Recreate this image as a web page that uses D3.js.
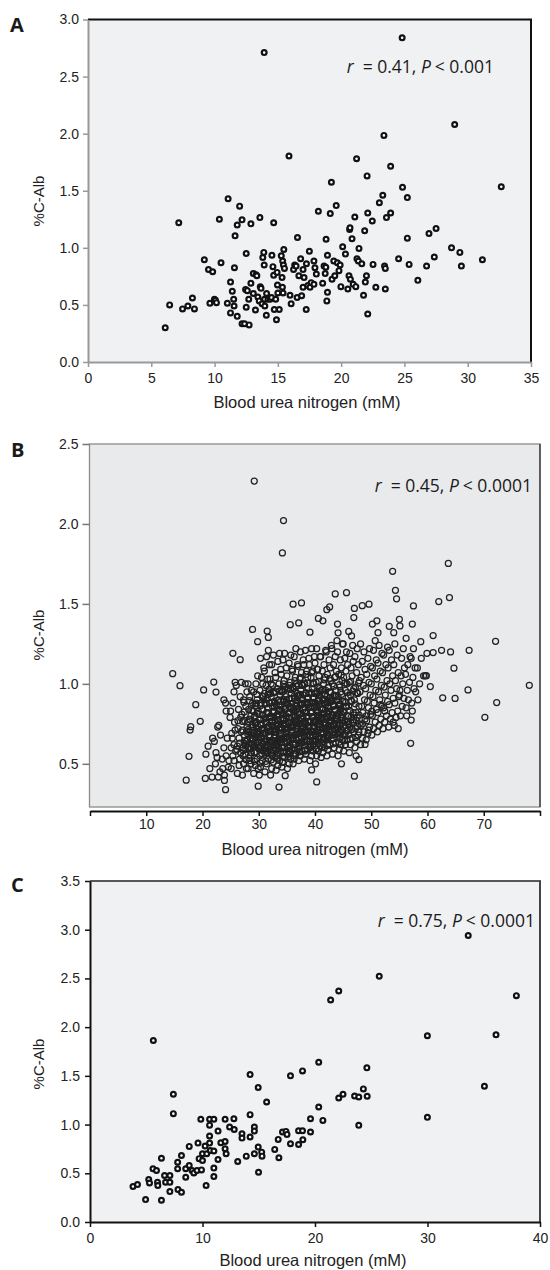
<!DOCTYPE html>
<html><head><meta charset="utf-8">
<script src="https://cdn.jsdelivr.net/npm/d3@7"></script>
<style>body{margin:0;background:#fff}svg{display:block}</style>
</head><body>
<script>
// ---------------- DATA ----------------
const panelA = [
[6.1,0.30],[6.45,0.50],[7.17,1.22],[7.47,0.465],[7.89,0.49],[8.25,0.56],[8.41,0.465],[9.19,0.895],[9.52,0.81],[9.63,0.515],
[9.85,0.79],[9.99,0.55],[10.07,0.54],[10.15,0.52],[10.38,1.25],[10.51,0.87],[11.07,1.43],[11.01,0.515],[11.26,0.70],[11.26,0.43],
[11.4,0.62],[11.51,0.55],[11.54,0.49],[11.57,0.825],[11.62,1.105],[11.79,0.40],[11.79,1.20],[11.98,1.365],[12.17,1.245],[12.17,0.335],
[12.37,0.335],[12.45,0.635],[12.5,0.95],[12.5,0.48],[12.59,0.625],[12.7,0.55],[12.73,0.325],[12.87,0.69],[12.87,1.21],[13.06,0.60],
[13.06,0.775],[13.23,0.455],[13.28,0.765],[13.34,0.755],[13.42,0.57],[13.53,0.535],[13.58,1.265],[13.61,0.66],[13.67,0.645],[13.75,0.51],
[13.81,0.915],[13.89,0.96],[13.92,2.71],[13.92,0.85],[13.95,0.55],[13.97,0.49],[14.09,0.41],[14.11,0.60],[14.22,0.55],[14.39,0.55],
[14.5,0.565],[14.53,0.935],[14.61,0.835],[14.67,1.22],[14.67,0.76],[14.72,0.46],[14.83,0.55],[14.89,0.37],[14.94,0.785],[14.97,0.675],
[15.0,0.605],[15.11,0.46],[15.27,0.93],[15.33,0.74],[15.36,0.655],[15.38,0.885],[15.41,0.605],[15.44,0.85],[15.47,0.985],[15.52,0.82],
[15.88,1.805],[15.96,0.585],[16.05,0.51],[16.24,0.81],[16.33,0.85],[16.44,0.84],[16.52,0.565],[16.55,1.09],[16.66,0.755],[16.8,0.905],
[16.88,0.58],[16.99,0.81],[16.99,0.655],[17.07,0.74],[17.24,0.46],[17.26,0.86],[17.37,0.67],[17.49,0.97],[17.54,0.655],[17.63,0.695],
[17.85,0.885],[17.85,0.68],[17.93,0.825],[18.04,0.77],[18.2,1.32],[18.54,0.69],[18.65,0.84],[18.74,0.775],[18.79,0.83],[18.81,1.075],
[18.87,0.535],[18.92,0.61],[18.92,0.935],[19.14,1.30],[19.23,1.575],[19.28,0.725],[19.42,0.885],[19.5,0.755],[19.61,1.37],[19.7,0.87],
[19.83,0.80],[19.92,0.85],[19.98,0.66],[20.12,1.01],[20.34,0.945],[20.53,0.64],[20.62,0.755],[20.67,1.16],[20.7,1.175],[20.73,0.725],
[20.86,1.08],[20.95,0.68],[21.08,1.27],[21.16,0.66],[21.22,1.78],[21.25,0.905],[21.36,0.885],[21.41,0.995],[21.63,0.86],[21.77,0.585],
[21.86,1.15],[21.91,0.70],[22.0,0.755],[22.05,1.63],[22.1,1.305],[22.1,0.42],[22.46,1.235],[22.52,0.855],[22.74,0.655],[23.02,1.395],
[23.29,1.46],[23.38,1.985],[23.43,0.84],[23.49,0.82],[23.49,0.64],[23.58,1.265],[23.91,1.715],[23.91,1.305],[24.54,0.905],[24.82,2.84],
[24.85,1.53],[25.23,1.44],[25.23,1.085],[25.37,0.855],[26.06,0.715],[26.75,0.84],[26.94,1.125],[27.36,0.92],[27.5,1.17],[28.72,1.0],
[28.97,2.08],[29.38,0.96],[29.5,0.84],[31.16,0.895],[32.65,1.535]
];

const panelBOutliers = [
[29.2,2.268],[34.4,2.021],[34.2,1.819],[63.7,1.753],[53.8,1.704],[54.3,1.585],[54.5,1.532],[63.9,1.54],[62.0,1.515],[43.6,1.562],
[45.6,1.57],[36.1,1.498],[37.6,1.506],[47.0,1.472],[48.4,1.489],[49.6,1.498],[57.5,1.487],[46.9,1.415],[42.1,1.464],[42.6,1.481],
[40.6,1.409],[41.4,1.394],[37.1,1.381],[35.6,1.37],[44.0,1.374],[50.2,1.374],[51.0,1.394],[53.2,1.36],[55.0,1.404],[55.1,1.362],
[57.3,1.374],[54.0,1.32],[28.9,1.34],[31.5,1.33],[31.7,1.29],[29.8,1.264],[39.1,1.323],[44.1,1.319],[46.0,1.328],[61.0,1.302],
[51.2,1.32],[56.2,1.285],[58.8,1.264],[62.5,1.21],[64.1,1.2],[67.4,1.21],[72.1,1.266],[59.9,1.191],[61.0,1.196],[64.7,1.098],
[59.8,1.051],[60.5,0.983],[62.7,0.913],[64.9,0.909],[67.2,0.962],[70.2,0.791],[72.3,0.883],[78.1,0.991],[57.0,0.628],[57.1,0.774],
[57.3,0.83],[14.7,1.064],[16.0,0.989],[18.8,0.87],[20.2,0.962],[22.0,1.011],[22.4,0.949],[19.6,0.766],[17.9,0.732],[17.8,0.711],
[17.6,0.547],[17.1,0.398],[20.5,0.409],[21.7,0.417],[22.8,0.417],[23.9,0.396],[24.1,0.338],[29.9,0.36],[33.6,0.355],[34.7,0.426],
[39.4,0.462],[40.3,0.387],[44.7,0.50],[47.0,0.423],[47.8,0.526],[48.9,0.621],[25.4,1.191],[26.7,1.151],
[20.6,0.56],[21.3,0.47],[21.8,0.66],[22.1,0.64],[22.4,0.57],[22.7,0.73],[22.9,0.74],[23.2,0.68],[23.5,0.53],[23.8,0.6],
[24.2,0.55],[24.4,0.66],[24.6,0.48],[24.9,0.79],[24.1,0.88],[23.6,0.47],[22.3,0.5],[21.0,0.61],[24.7,0.52],[23.9,0.43],
[23.8,0.9],[24.2,0.83],[22.6,0.54],[23.1,0.45]
];

const panelBCore = [
[25.1,.47],[25.4,.55],[25.6,.62],[25.2,.69],[25.7,.76],[25.4,.88],[25.8,1.01],[25.6,.52],[25.9,.58],[25.0,.83],[25.6,.95],[25.3,.66],[25.8,.71],[25.1,.6],
[26.2,.44],[26.1,.59],[26.5,.66],[26.3,.72],[26.8,.79],[26.4,.84],[26.7,.92],[26.0,.99],[26.9,1.01],[26.6,.53],[26.2,.61],[26.8,.57],[26.5,.49],[26.9,.7],[26.3,.77],[26.6,.63],
[27.1,.43],[27.3,.5],[27.6,.56],[27.2,.6],[27.8,.64],[27.4,.68],[27.9,.73],[27.5,.77],[27.0,.81],[27.7,.86],[27.3,.9],[27.9,.95],[27.6,1.0],[27.2,.55],[27.8,.47],[27.4,.63],[27.1,.71],[27.7,.59],
[28.1,.47],[28.4,.52],[28.7,.57],[28.2,.6],[28.9,.62],[28.5,.66],[28.3,.7],[28.8,.73],[28.0,.76],[28.6,.8],[28.2,.84],[28.9,.88],[28.4,.92],[28.7,.96],[28.1,1.0],[28.5,.55],[28.8,.68],[28.3,.78],[28.6,.5],[28.0,.65],
[29.1,.44],[29.4,.49],[29.7,.53],[29.2,.57],[29.9,.6],[29.5,.63],[29.3,.67],[29.8,.7],[29.0,.73],[29.6,.76],[29.2,.79],[29.9,.83],[29.4,.86],[29.7,.9],[29.1,.95],[29.5,1.0],[29.8,1.05],[29.3,.61],[29.6,.69],[29.0,.83],[29.9,.47],[29.4,.75],
[30.1,.43],[30.3,.48],[30.6,.52],[30.2,.55],[30.8,.58],[30.4,.61],[30.9,.64],[30.5,.67],[30.0,.7],[30.7,.72],[30.3,.75],[30.9,.78],[30.1,.81],[30.6,.84],[30.4,.88],[30.8,.92],[30.2,.96],[30.7,1.0],[30.5,1.04],[30.9,1.1],[30.3,1.16],[30.6,.59],[30.1,.65],[30.8,.69],
[31.1,.45],[31.4,.5],[31.7,.53],[31.2,.56],[31.9,.59],[31.5,.62],[31.3,.65],[31.8,.68],[31.0,.71],[31.6,.73],[31.2,.76],[31.9,.79],[31.4,.82],[31.7,.85],[31.1,.88],[31.5,.91],[31.8,.95],[31.3,.99],[31.6,1.03],[31.0,1.08],[31.9,1.12],[31.4,1.17],[31.7,1.21],[31.2,.6],[31.8,.74],[31.5,.57],
[32.1,.43],[32.3,.47],[32.6,.51],[32.9,.54],[32.2,.57],[32.7,.6],[32.4,.63],[32.8,.66],[32.0,.68],[32.5,.71],[32.3,.74],[32.9,.77],[32.1,.8],[32.6,.83],[32.4,.86],[32.8,.89],[32.2,.92],[32.7,.95],[32.5,.99],[32.0,1.03],[32.9,1.07],[32.3,1.12],[32.6,1.18],[32.4,.55],[32.8,.72],[32.1,.64],[32.7,.79],[32.2,1.0],
[33.1,.46],[33.4,.49],[33.7,.52],[33.2,.55],[33.9,.58],[33.5,.61],[33.3,.64],[33.8,.67],[33.0,.7],[33.6,.72],[33.2,.75],[33.9,.78],[33.4,.81],[33.7,.84],[33.1,.87],[33.5,.9],[33.8,.93],[33.3,.97],[33.6,1.0],[33.0,1.04],[33.9,1.09],[33.4,1.14],[33.7,1.19],[33.2,.62],[33.8,.73],[33.5,.83],[33.1,.58],[33.6,.66],
[34.1,.48],[34.3,.51],[34.6,.54],[34.9,.57],[34.2,.6],[34.7,.63],[34.4,.66],[34.8,.69],[34.0,.72],[34.5,.74],[34.3,.77],[34.9,.8],[34.1,.83],[34.6,.86],[34.4,.89],[34.8,.92],[34.2,.95],[34.7,.98],[34.5,1.02],[34.0,1.06],[34.9,1.1],[34.3,1.15],[34.6,1.19],[34.4,.58],[34.8,.75],[34.1,.65],[34.7,.84],[34.2,.51],
[35.1,.47],[35.4,.5],[35.7,.53],[35.2,.56],[35.9,.59],[35.5,.62],[35.3,.65],[35.8,.68],[35.0,.71],[35.6,.73],[35.2,.76],[35.9,.79],[35.4,.82],[35.7,.85],[35.1,.88],[35.5,.91],[35.8,.94],[35.3,.97],[35.6,1.01],[35.0,1.05],[35.9,1.09],[35.4,1.13],[35.7,1.18],[35.2,.6],[35.8,.74],[35.5,.86],[35.1,.67],[35.6,.57],
[36.1,.5],[36.3,.53],[36.6,.56],[36.9,.59],[36.2,.62],[36.7,.65],[36.4,.68],[36.8,.7],[36.0,.73],[36.5,.76],[36.3,.79],[36.9,.82],[36.1,.85],[36.6,.88],[36.4,.91],[36.8,.94],[36.2,.97],[36.7,1.0],[36.5,1.04],[36.0,1.08],[36.9,1.12],[36.3,1.17],[36.6,1.22],[36.4,.6],[36.8,.77],[36.1,.66],[36.7,.84],[36.2,.55],
[37.1,.52],[37.4,.55],[37.7,.58],[37.2,.61],[37.9,.64],[37.5,.67],[37.3,.7],[37.8,.72],[37.0,.75],[37.6,.78],[37.2,.81],[37.9,.84],[37.4,.87],[37.7,.9],[37.1,.93],[37.5,.96],[37.8,.99],[37.3,1.03],[37.6,1.07],[37.0,1.11],[37.9,1.15],[37.4,1.2],[37.7,.63],[37.2,.69],[37.8,.8],[37.5,.88],[37.1,.6],[37.6,.74],
[38.1,.53],[38.3,.56],[38.6,.59],[38.9,.62],[38.2,.65],[38.7,.68],[38.4,.71],[38.8,.73],[38.0,.76],[38.5,.79],[38.3,.82],[38.9,.85],[38.1,.88],[38.6,.91],[38.4,.94],[38.8,.97],[38.2,1.0],[38.7,1.04],[38.5,1.08],[38.0,1.12],[38.9,1.16],[38.3,1.21],[38.6,.64],[38.4,.75],[38.8,.8],[38.1,.7],[38.7,.87],[38.2,.58],
[39.1,.52],[39.4,.55],[39.7,.58],[39.2,.61],[39.9,.64],[39.5,.67],[39.3,.7],[39.8,.73],[39.0,.76],[39.6,.79],[39.2,.82],[39.9,.85],[39.4,.88],[39.7,.91],[39.1,.94],[39.5,.97],[39.8,1.0],[39.3,1.04],[39.6,1.08],[39.0,1.12],[39.9,1.17],[39.4,1.22],[39.7,.62],[39.2,.68],[39.8,.77],[39.5,.86],[39.1,.6],[39.6,.72],
[40.1,.5],[40.3,.55],[40.6,.58],[40.9,.61],[40.2,.64],[40.7,.67],[40.4,.7],[40.8,.73],[40.0,.76],[40.5,.79],[40.3,.82],[40.9,.85],[40.1,.88],[40.6,.91],[40.4,.94],[40.8,.97],[40.2,1.01],[40.7,1.05],[40.5,1.09],[40.0,1.13],[40.9,1.17],[40.3,1.22],[40.6,.63],[40.4,.75],[40.8,.8],[40.1,.68],[40.7,.87],[40.2,.59],
[41.1,.54],[41.4,.57],[41.7,.6],[41.2,.63],[41.9,.66],[41.5,.69],[41.3,.72],[41.8,.75],[41.0,.78],[41.6,.81],[41.2,.84],[41.9,.87],[41.4,.9],[41.7,.93],[41.1,.96],[41.5,1.0],[41.8,1.04],[41.3,1.08],[41.6,1.12],[41.0,1.17],[41.9,1.21],[41.4,.65],[41.7,.74],[41.2,.79],[41.8,.88],[41.5,.62],
[42.1,.55],[42.3,.59],[42.6,.62],[42.9,.65],[42.2,.68],[42.7,.71],[42.4,.74],[42.8,.77],[42.0,.8],[42.5,.83],[42.3,.86],[42.9,.89],[42.1,.92],[42.6,.95],[42.4,.98],[42.8,1.02],[42.2,1.06],[42.7,1.1],[42.5,1.15],[42.0,1.2],[42.9,1.24],[42.3,.66],[42.6,.76],[42.4,.81],[42.8,.9],[42.1,.72],
[43.1,.56],[43.4,.6],[43.7,.63],[43.2,.66],[43.9,.69],[43.5,.72],[43.3,.75],[43.8,.78],[43.0,.81],[43.6,.84],[43.2,.87],[43.9,.9],[43.4,.93],[43.7,.96],[43.1,1.0],[43.5,1.04],[43.8,1.08],[43.3,1.12],[43.6,1.17],[43.0,1.22],[43.9,1.27],[43.4,.7],[43.7,.79],[43.2,.74],
[44.1,.55],[44.3,.59],[44.6,.62],[44.9,.65],[44.2,.68],[44.7,.71],[44.4,.74],[44.8,.77],[44.0,.8],[44.5,.83],[44.3,.86],[44.9,.89],[44.1,.92],[44.6,.95],[44.4,.98],[44.8,1.02],[44.2,1.06],[44.7,1.1],[44.5,1.15],[44.0,1.2],[44.9,1.25],[44.3,.7],[44.6,.79],[44.4,.66],
[45.1,.58],[45.4,.62],[45.7,.65],[45.2,.68],[45.9,.71],[45.5,.74],[45.3,.77],[45.8,.8],[45.0,.83],[45.6,.86],[45.2,.89],[45.9,.92],[45.4,.96],[45.7,1.0],[45.1,1.04],[45.5,1.08],[45.8,1.12],[45.3,1.16],[45.6,1.2],[45.0,1.25],[45.9,.75],[45.4,.69],
[46.1,.57],[46.3,.62],[46.6,.66],[46.9,.7],[46.2,.73],[46.7,.76],[46.4,.79],[46.8,.82],[46.0,.86],[46.5,.89],[46.3,.93],[46.9,.97],[46.1,1.01],[46.6,1.05],[46.4,1.1],[46.8,1.14],[46.2,1.19],[46.7,1.24],[46.5,1.3],[46.0,.68],
[47.1,.6],[47.4,.64],[47.7,.68],[47.2,.72],[47.9,.75],[47.5,.79],[47.3,.82],[47.8,.86],[47.0,.9],[47.6,.94],[47.2,.98],[47.9,1.02],[47.4,1.07],[47.7,1.12],[47.1,1.17],[47.5,1.22],[47.8,.7],[47.3,.55],
[48.1,.62],[48.4,.66],[48.7,.7],[48.2,.74],[48.9,.78],[48.5,.82],[48.3,.86],[48.8,.9],[48.0,.95],[48.6,.99],[48.2,1.04],[48.9,1.09],[48.4,1.14],[48.7,1.2],[48.1,1.25],[48.5,.75],
[49.1,.65],[49.4,.69],[49.7,.73],[49.2,.77],[49.9,.81],[49.5,.85],[49.3,.89],[49.8,.93],[49.0,.97],[49.6,1.01],[49.2,1.06],[49.9,1.11],[49.4,1.16],[49.7,1.22],[49.1,.8],[49.5,.71],
[50.1,.68],[50.4,.72],[50.7,.76],[50.2,.8],[50.9,.84],[50.5,.88],[50.3,.92],[50.8,.96],[50.0,1.0],[50.6,1.05],[50.2,1.1],[50.9,1.15],[50.4,1.21],[50.7,1.27],[50.1,.83],
[51.1,.7],[51.4,.74],[51.7,.78],[51.2,.82],[51.9,.86],[51.5,.9],[51.3,.95],[51.8,.99],[51.0,1.03],[51.6,1.08],[51.2,1.13],[51.9,1.19],[51.4,1.24],[51.7,.87],
[52.1,.72],[52.4,.76],[52.7,.8],[52.2,.85],[52.9,.89],[52.5,.93],[52.3,.98],[52.8,1.02],[52.0,1.07],[52.6,1.12],[52.2,1.18],[52.9,1.23],[52.4,.83],
[53.1,.73],[53.4,.78],[53.7,.82],[53.2,.87],[53.9,.91],[53.5,.96],[53.3,1.0],[53.8,1.05],[53.0,1.1],[53.6,1.15],[53.2,1.21],[53.9,.76],
[54.1,.74],[54.4,.79],[54.7,.83],[54.2,.88],[54.9,.92],[54.5,.97],[54.3,1.02],[54.8,1.07],[54.0,1.12],[54.6,1.18],[54.2,1.25],[54.8,.72],
[55.2,.8],[55.5,.86],[55.8,.91],[55.1,.96],[55.6,1.0],[55.3,1.05],[55.9,1.1],[55.4,1.16],[55.7,1.22],[55.0,.93],
[56.2,.85],[56.6,.9],[56.4,.96],[56.8,1.01],[56.1,1.06],[56.5,1.12],[56.9,1.17],[56.3,.8],
[57.2,.88],[57.6,.97],[57.4,1.04],[57.8,1.1],[57.1,1.16],[57.5,1.22],[57.9,.95],
[58.3,.9],[58.6,1.0],[58.2,1.1],[58.9,1.16],[59.3,1.05],[59.6,1.05]
];

const panelBDense = [
[27.25,.585],[27.55,.645],[27.85,.705],[27.15,.765],[27.45,.825],[27.75,.525],[27.35,.885],[27.65,.615],
[28.25,.535],[28.55,.595],[28.85,.655],[28.15,.715],[28.45,.775],[28.75,.835],[28.35,.895],[28.65,.625],[28.05,.685],[28.95,.745],
[29.25,.515],[29.55,.575],[29.85,.635],[29.15,.695],[29.45,.755],[29.75,.815],[29.35,.875],[29.65,.935],[29.05,.605],[29.95,.665],[29.5,.725],
[30.25,.505],[30.55,.565],[30.85,.625],[30.15,.685],[30.45,.745],[30.75,.805],[30.35,.865],[30.65,.925],[30.05,.595],[30.95,.655],[30.5,.715],[30.2,.775],
[31.25,.515],[31.55,.575],[31.85,.635],[31.15,.695],[31.45,.755],[31.75,.815],[31.35,.875],[31.65,.935],[31.05,.605],[31.95,.665],[31.5,.725],[31.2,.785],[31.8,.965],
[32.25,.525],[32.55,.585],[32.85,.645],[32.15,.705],[32.45,.765],[32.75,.825],[32.35,.885],[32.65,.945],[32.05,.615],[32.95,.675],[32.5,.735],[32.2,.795],[32.8,.855],
[33.25,.535],[33.55,.595],[33.85,.655],[33.15,.715],[33.45,.775],[33.75,.835],[33.35,.895],[33.65,.955],[33.05,.625],[33.95,.685],[33.5,.745],[33.2,.805],[33.8,.865],
[34.25,.545],[34.55,.605],[34.85,.665],[34.15,.725],[34.45,.785],[34.75,.845],[34.35,.905],[34.65,.965],[34.05,.635],[34.95,.695],[34.5,.755],[34.2,.815],[34.8,.875],[34.4,1.0],
[35.25,.545],[35.55,.605],[35.85,.665],[35.15,.725],[35.45,.785],[35.75,.845],[35.35,.905],[35.65,.965],[35.05,.635],[35.95,.695],[35.5,.755],[35.2,.815],[35.8,.875],[35.4,.99],
[36.25,.565],[36.55,.625],[36.85,.685],[36.15,.745],[36.45,.805],[36.75,.865],[36.35,.925],[36.65,.985],[36.05,.655],[36.95,.715],[36.5,.775],[36.2,.835],[36.8,.895],[36.4,1.02],
[37.25,.575],[37.55,.635],[37.85,.695],[37.15,.755],[37.45,.815],[37.75,.875],[37.35,.935],[37.65,.995],[37.05,.665],[37.95,.725],[37.5,.785],[37.2,.845],[37.8,.905],[37.4,1.04],
[38.25,.585],[38.55,.645],[38.85,.705],[38.15,.765],[38.45,.825],[38.75,.885],[38.35,.945],[38.65,1.005],[38.05,.675],[38.95,.735],[38.5,.795],[38.2,.855],[38.8,.915],[38.4,1.06],
[39.25,.585],[39.55,.645],[39.85,.705],[39.15,.765],[39.45,.825],[39.75,.885],[39.35,.945],[39.65,1.005],[39.05,.675],[39.95,.735],[39.5,.795],[39.2,.855],[39.8,.915],[39.4,1.07],
[40.25,.595],[40.55,.655],[40.85,.715],[40.15,.775],[40.45,.835],[40.75,.895],[40.35,.955],[40.65,1.015],[40.05,.685],[40.95,.745],[40.5,.805],[40.2,.865],[40.8,.925],[40.4,1.09],
[41.25,.605],[41.55,.665],[41.85,.725],[41.15,.785],[41.45,.845],[41.75,.905],[41.35,.965],[41.65,1.025],[41.05,.695],[41.95,.755],[41.5,.815],[41.2,.875],[41.8,.935],
[42.25,.615],[42.55,.675],[42.85,.735],[42.15,.795],[42.45,.855],[42.75,.915],[42.35,.975],[42.65,1.035],[42.05,.705],[42.95,.765],[42.5,.825],[42.2,.885],[42.8,.945],
[43.25,.625],[43.55,.685],[43.85,.745],[43.15,.805],[43.45,.865],[43.75,.925],[43.35,.985],[43.65,1.045],[43.05,.715],[43.95,.775],[43.5,.835],[43.2,.895],
[44.25,.635],[44.55,.695],[44.85,.755],[44.15,.815],[44.45,.875],[44.75,.935],[44.35,.995],[44.65,1.055],[44.05,.725],[44.95,.785],[44.5,.845],
[45.25,.645],[45.55,.705],[45.85,.765],[45.15,.825],[45.45,.885],[45.75,.945],[45.35,1.005],[45.05,.735],[45.95,.795],[45.5,.855],
[46.25,.655],[46.55,.715],[46.85,.775],[46.15,.835],[46.45,.895],[46.75,.955],[46.35,1.015],[46.05,.745],[46.95,.805],
[47.25,.665],[47.55,.735],[47.85,.805],[47.15,.875],[47.45,.945],[47.75,1.005],[47.35,.77]
];

const panelBCentre = [
[29.15,.62],[29.45,.68],[29.75,.74],[29.3,.8],[29.6,.88],
[30.15,.6],[30.45,.66],[30.75,.72],[30.3,.78],[30.6,.84],[30.9,.9],
[31.15,.58],[31.45,.64],[31.75,.7],[31.3,.76],[31.6,.82],[31.9,.88],[31.05,.94],
[32.15,.58],[32.45,.64],[32.75,.7],[32.3,.76],[32.6,.82],[32.9,.88],[32.05,.94],
[33.15,.59],[33.45,.65],[33.75,.71],[33.3,.77],[33.6,.83],[33.9,.89],[33.05,.95],[33.4,.56],
[34.15,.6],[34.45,.66],[34.75,.72],[34.3,.78],[34.6,.84],[34.9,.9],[34.05,.96],[34.4,.57],
[35.15,.61],[35.45,.67],[35.75,.73],[35.3,.79],[35.6,.85],[35.9,.91],[35.05,.97],[35.4,.58],
[36.15,.62],[36.45,.68],[36.75,.74],[36.3,.8],[36.6,.86],[36.9,.92],[36.05,.98],
[37.15,.63],[37.45,.69],[37.75,.75],[37.3,.81],[37.6,.87],[37.9,.93],[37.05,.99],
[38.15,.64],[38.45,.7],[38.75,.76],[38.3,.82],[38.6,.88],[38.9,.94],[38.05,1.0],
[39.15,.64],[39.45,.7],[39.75,.76],[39.3,.82],[39.6,.88],[39.9,.94],
[40.15,.65],[40.45,.71],[40.75,.77],[40.3,.83],[40.6,.89],[40.9,.95],
[41.15,.66],[41.45,.72],[41.75,.78],[41.3,.84],[41.6,.9],[41.9,.96],
[42.15,.67],[42.45,.73],[42.75,.79],[42.3,.85],[42.6,.91],
[43.15,.68],[43.45,.74],[43.75,.8],[43.3,.86],[43.6,.92],
[44.15,.69],[44.45,.75],[44.75,.81],[44.3,.87]
];

const panelC = [
[3.82,0.364],[4.22,0.384],[4.94,0.23],[5.22,0.436],[5.29,0.40],[5.6,0.546],[5.63,1.863],[5.91,0.528],[6.0,0.408],[6.03,0.374],
[6.35,0.655],[6.35,0.223],[6.63,0.477],[6.72,0.408],[7.1,0.477],[7.1,0.408],[7.1,0.312],[7.41,1.311],[7.41,1.112],[7.79,0.614],
[7.79,0.546],[7.82,0.333],[8.13,0.683],[8.13,0.305],[8.51,0.46],[8.51,0.546],[8.82,0.776],[8.82,0.58],[9.07,0.528],[9.23,0.504],
[9.51,0.528],[9.6,0.81],[9.7,0.65],[9.85,1.054],[9.91,0.535],[10.0,0.70],[10.0,0.631],[10.23,0.779],[10.32,0.374],[10.38,0.70],
[10.63,0.994],[10.63,0.882],[10.63,0.81],[10.63,1.054],[10.7,0.734],[11.01,1.054],[11.01,0.728],[11.01,0.553],[11.01,0.467],[11.38,0.933],
[11.38,0.642],[11.63,0.813],[12.01,1.054],[12.01,0.827],[12.01,0.752],[12.1,0.70],[12.41,0.975],[12.79,1.06],[12.82,0.95],[13.13,0.621],
[13.51,0.906],[13.51,0.861],[13.89,0.676],[14.23,1.513],[14.23,1.102],[14.23,0.872],[14.61,0.975],[14.61,0.933],[14.61,0.70],[14.95,1.38],
[14.95,0.769],[14.98,0.511],[15.26,0.717],[15.29,0.676],[15.7,1.232],[16.42,0.745],[16.73,0.848],[16.79,0.659],[17.11,0.923],[17.42,0.93],
[17.51,0.899],[17.82,1.50],[17.82,0.803],[18.54,0.937],[18.54,0.796],[18.89,1.551],[18.89,0.937],[18.92,0.844],[19.6,1.06],[19.6,0.923],
[20.33,1.64],[20.33,1.18],[20.7,1.043],[21.39,2.279],[22.11,2.371],[22.11,1.273],[22.49,1.311],[23.52,1.294],[23.89,1.283],[23.89,0.992],
[24.3,1.366],[24.61,1.582],[24.64,1.29],[25.71,2.522],[29.99,1.911],[29.99,1.074],[33.62,2.941],[35.06,1.393],[36.09,1.921],[37.9,2.323]
];

const xTicksA = [0,5,10,15,20,25,30,35];
const yTicksA = [0,0.5,1,1.5,2,2.5,3];
const xTicksB = [0,10,20,30,40,50,60,70,80];
const yTicksB = [0.5,1,1.5,2,2.5];
const xTicksC = [0,10,20,30,40];
const yTicksC = [0,0.5,1,1.5,2,2.5,3,3.5];

const statA = ["r", "= 0.41, ", "P", "< 0.001"];
const statB = ["r", "= 0.45, ", "P", "< 0.0001"];
const statC = ["r", "= 0.75, ", "P", "< 0.0001"];
const xTitle = "Blood urea nitrogen (mM)";
const yTitle = "%C-Alb";

// ---------------- DRAW ----------------
const svg = d3.select("body").append("svg").attr("width",550).attr("height",1270);
const fmt = d3.format(".1f");
const TICKFONT = "'Liberation Sans', Arial, sans-serif";
const HUMFONT = "'Open Sans', 'Noto Sans', sans-serif";

function letter(t, x, y){
  svg.append("text").attr("x",x).attr("y",y).text(t)
    .attr("font-family",HUMFONT).attr("font-weight",700).attr("font-size",20).attr("fill","#1a1a1a");
}
function stat(parts, xr, yb){
  const t = svg.append("text").attr("x",xr).attr("y",yb).attr("text-anchor","end")
    .attr("font-family",HUMFONT).attr("font-size",17.5).attr("fill","#1a1a1a");
  parts.forEach((p,i)=>{
    const s = t.append("tspan").text(p).attr("font-style", i%2===0 ? "italic" : "normal");
    if (i===1) s.attr("dx",9);
    if (i===3) s.attr("dx",4);
  });
}
function titles(cx, xb, cy){
  svg.append("text").attr("x",cx).attr("y",xb).attr("text-anchor","middle")
    .attr("font-family",TICKFONT).attr("font-size",16.5).attr("fill","#222").text(xTitle);
  svg.append("text").attr("transform",`translate(44,${cy}) rotate(-90)`).attr("text-anchor","middle")
    .attr("font-family",TICKFONT).attr("font-size",15).attr("fill","#222").text(yTitle);
}
function styleAxis(g, col, w){
  g.select(".domain").attr("stroke",col).attr("stroke-width",w);
  g.selectAll(".tick line").attr("stroke",col).attr("stroke-width",1.5);
  g.selectAll(".tick text").attr("font-family",TICKFONT).attr("font-size",14).attr("fill","#222");
}
function ringMarks(data, x, y, r, sw, col, fill){
  svg.append("g").selectAll("circle").data(data).join("circle")
    .attr("cx",d=>x(d[0])).attr("cy",d=>y(d[1])).attr("r",r)
    .attr("fill",fill).attr("stroke",col).attr("stroke-width",sw);
}

// ---- Panel A ----
{
  const x = d3.scaleLinear().domain([0,35]).range([88,531]);
  const y = d3.scaleLinear().domain([0,3]).range([362,19.5]);
  svg.append("rect").attr("x",88).attr("y",19.5).attr("width",443).attr("height",342.5).attr("fill","#f0f1f3");
  svg.append("line").attr("x1",88).attr("x2",532).attr("y1",19.5).attr("y2",19.5).attr("stroke","#111").attr("stroke-width",2);
  svg.append("line").attr("x1",531).attr("x2",531).attr("y1",19.5).attr("y2",362).attr("stroke","#111").attr("stroke-width",2);
  ringMarks(panelA, x, y, 2.4, 2.2, "#111", "#fff");
  const gy = svg.append("g").attr("transform","translate(88,0)")
    .call(d3.axisLeft(y).tickValues(yTicksA).tickFormat(fmt).tickSize(5).tickPadding(4).tickSizeOuter(0));
  styleAxis(gy,"#999",2);
  const gx = svg.append("g").attr("transform","translate(0,362)")
    .call(d3.axisBottom(x).tickValues(xTicksA).tickFormat(d3.format("d")).tickSize(5).tickPadding(6).tickSizeOuter(0));
  styleAxis(gx,"#999",2);
  letter("A",10,32);
  stat(statA,494,73);
  titles(307,408,201);
}

// ---- Panel B ----
{
  const x = d3.scaleLinear().domain([0,80]).range([90,540]);
  const y = d3.scaleLinear().domain([0.23,2.5]).range([807,444]);
  svg.append("rect").attr("x",89.5).attr("y",444).attr("width",450.5).attr("height",363)
    .attr("fill","#e9eaec").attr("stroke","#8a8a8a").attr("stroke-width",1.3);
  svg.append("line").attr("x1",540).attr("x2",540).attr("y1",444).attr("y2",807).attr("stroke","#444").attr("stroke-width",1.5);
  ringMarks(panelBCore.concat(panelBDense, panelBCentre, panelBOutliers), x, y, 3, 1.25, "#222", "none");
  const gy = svg.append("g").attr("transform","translate(89.5,0)")
    .call(d3.axisLeft(y).tickValues(yTicksB).tickFormat(fmt).tickSize(7).tickPadding(4).tickSizeOuter(0));
  styleAxis(gy,"#777",1.3);
  gy.select(".domain").remove();
  const gx = svg.append("g").attr("transform","translate(0,811)")
    .call(d3.axisBottom(x).tickValues(xTicksB).tickFormat(d=>(d===0||d===80)?"":d).tickSize(5).tickPadding(3.5).tickSizeOuter(0));
  styleAxis(gx,"#111",2);
  letter("B",11,457);
  stat(statB,532,492);
  titles(315,855,635);
}

// ---- Panel C ----
{
  const x = d3.scaleLinear().domain([0,40]).range([90,540]);
  const y = d3.scaleLinear().domain([0,3.5]).range([1222,881]);
  svg.append("rect").attr("x",90).attr("y",881).attr("width",450).attr("height",341).attr("fill","#f0f1f3");
  svg.append("line").attr("x1",90).attr("x2",541).attr("y1",881).attr("y2",881).attr("stroke","#222").attr("stroke-width",1.6);
  svg.append("line").attr("x1",540).attr("x2",540).attr("y1",881).attr("y2",1222).attr("stroke","#444").attr("stroke-width",2);
  ringMarks(panelC, x, y, 2.4, 2.2, "#111", "#fff");
  const gy = svg.append("g").attr("transform","translate(90,0)")
    .call(d3.axisLeft(y).tickValues(yTicksC).tickFormat(fmt).tickSize(5).tickPadding(5).tickSizeOuter(0));
  styleAxis(gy,"#111",2);
  const gx = svg.append("g").attr("transform","translate(0,1222)")
    .call(d3.axisBottom(x).tickValues(xTicksC).tickFormat(d3.format("d")).tickSize(5).tickPadding(6).tickSizeOuter(0));
  styleAxis(gx,"#111",2);
  letter("C",11,892);
  stat(statC,535,927);
  titles(313,1266,1064);
}
</script>
</body></html>
